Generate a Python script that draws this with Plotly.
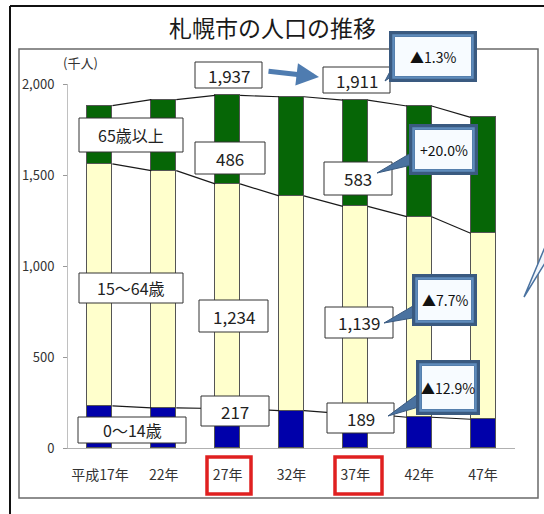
import plotly.graph_objects as go

# Sapporo population by age group (thousands)
years = ["平成17年", "22年", "27年", "32年", "37年", "42年", "47年"]
age_0_14 = [231, 221, 217, 205, 189, 169, 158]
age_15_64 = [1330, 1303, 1234, 1180, 1139, 1102, 1022]
age_65_over = [320, 390, 486, 545, 583, 608, 637]
y_ticks = [0, 500, 1000, 1500, 2000]

W, H = 544, 514
FONT = "Noto Sans CJK JP"
BAR_W = 0.39


def px(x):
    return x / W


def py(y):
    return 1 - y / H


totals = [a + b + c for a, b, c in zip(age_0_14, age_15_64, age_65_over)]
cum1 = age_0_14
cum2 = [a + b for a, b in zip(age_0_14, age_15_64)]
xs = list(range(len(years)))

fig = go.Figure()
for vals, name, color in [
    (age_0_14, "0～14歳", "#0000aa"),
    (age_15_64, "15～64歳", "#ffffcc"),
    (age_65_over, "65歳以上", "#066606"),
]:
    fig.add_trace(go.Bar(
        x=xs, y=vals, name=name, width=BAR_W,
        marker=dict(color=color, line=dict(color="#555555", width=1)),
        showlegend=False, hoverinfo="skip",
    ))

# series lines joining segment tops between neighbouring bars
for level in (cum1, cum2, totals):
    lx, ly = [], []
    for i in range(len(xs) - 1):
        lx += [xs[i] + BAR_W / 2, xs[i + 1] - BAR_W / 2, None]
        ly += [level[i], level[i + 1], None]
    fig.add_trace(go.Scatter(x=lx, y=ly, mode="lines",
                             line=dict(color="#1a1a1a", width=1.2),
                             showlegend=False, hoverinfo="skip"))

shapes = []
annotations = []

# outer frame and inner chart frame
shapes.append(dict(type="line", xref="paper", yref="paper",
                   x0=px(10), x1=px(544), y0=py(6), y1=py(6),
                   line=dict(color="#111111", width=2)))
shapes.append(dict(type="line", xref="paper", yref="paper",
                   x0=px(10), x1=px(10), y0=py(6), y1=py(514),
                   line=dict(color="#111111", width=2)))
shapes.append(dict(type="rect", xref="paper", yref="paper",
                   x0=px(19), x1=px(538), y0=py(49), y1=py(498),
                   line=dict(color="#6a6a6a", width=1.5), layer="below"))


def text_box(x0, y0, x1, y1, text, size=16):
    shapes.append(dict(type="rect", xref="paper", yref="paper",
                       x0=px(x0), x1=px(x1), y0=py(y0), y1=py(y1),
                       line=dict(color="#333333", width=1),
                       fillcolor="white", layer="above"))
    annotations.append(dict(xref="paper", yref="paper",
                            x=px((x0 + x1) / 2), y=py((y0 + y1) / 2),
                            text=text, showarrow=False,
                            font=dict(family=FONT, size=size, color="#222222"),
                            xanchor="center", yanchor="middle"))


def callout(x0, y0, x1, y1, text, wedge):
    (bx1, by1), (bx2, by2), (tx, ty) = wedge
    path = (f"M {px(bx1)},{py(by1)} L {px(tx)},{py(ty)} "
            f"L {px(bx2)},{py(by2)} Z")
    shapes.append(dict(type="path", xref="paper", yref="paper", path=path,
                       fillcolor="#4a72a0", line=dict(color="#3a5a80", width=1),
                       layer="above"))
    shapes.append(dict(type="rect", xref="paper", yref="paper",
                       x0=px(x0), x1=px(x1), y0=py(y0), y1=py(y1),
                       line=dict(color="#3a5a80", width=6),
                       fillcolor="#f7fbff", layer="above"))
    shapes.append(dict(type="rect", xref="paper", yref="paper",
                       x0=px(x0 + 1.5), x1=px(x1 - 1.5),
                       y0=py(y0 + 1.5), y1=py(y1 - 1.5),
                       line=dict(color="#5f8cbc", width=2.5),
                       layer="above"))
    annotations.append(dict(xref="paper", yref="paper",
                            x=px((x0 + x1) / 2), y=py((y0 + y1) / 2),
                            text=text, showarrow=False,
                            font=dict(family=FONT, size=14, color="#111111"),
                            xanchor="center", yanchor="middle"))


def pct(new, old):
    r = (new / old - 1) * 100
    return f"▲{abs(r):.1f}%" if r < 0 else f"+{r:.1f}%"


# series name labels
text_box(79, 118, 183, 152, "65歳以上")
text_box(79, 273, 183, 303, "15～64歳")
text_box(78, 417, 186, 443, "0～14歳")

# values for 27年 and 37年
i27, i37 = 2, 4
text_box(195, 62, 262, 88, f"{totals[i27]:,}", 17)
text_box(323, 67, 390, 93, f"{totals[i37]:,}", 17)
text_box(195, 142, 265, 174, f"{age_65_over[i27]:,}", 17)
text_box(324, 162, 392, 195, f"{age_65_over[i37]:,}", 17)
text_box(199, 300, 268, 332, f"{age_15_64[i27]:,}", 17)
text_box(325, 307, 393, 338, f"{age_15_64[i37]:,}", 17)
text_box(201, 396, 269, 426, f"{age_0_14[i27]:,}", 17)
text_box(327, 403, 394, 433, f"{age_0_14[i37]:,}", 17)

# change rate callouts
callout(392, 34, 474, 79, pct(totals[i37], totals[i27]),
        ((396, 60), (398, 72), (385, 81)))
callout(412, 127, 475, 172, pct(age_65_over[i37], age_65_over[i27]),
        ((416, 150), (416, 164), (377, 173)))
callout(415, 277, 474, 323, pct(age_15_64[i37], age_15_64[i27]),
        ((418, 303), (418, 317), (384, 323)))
callout(419, 363, 477, 412, pct(age_0_14[i37], age_0_14[i27]),
        ((422, 391), (422, 406), (388, 416)))

# pointer of a callout reaching in from the right edge
shapes.append(dict(type="path", xref="paper", yref="paper",
                   path=f"M {px(545)},{py(247)} L {px(524)},{py(297)} "
                        f"L {px(545)},{py(263)} Z",
                   fillcolor="#f2f6fb", line=dict(color="#4a72a0", width=1.5),
                   layer="above"))

# highlight frames around the 27年 and 37年 labels
for x0, x1 in [(207, 251), (335, 382)]:
    shapes.append(dict(type="rect", xref="paper", yref="paper",
                       x0=px(x0), x1=px(x1), y0=py(457), y1=py(494),
                       line=dict(color="#e02020", width=3.5), layer="above"))

# arrow from total 27年 to total 37年
annotations.append(dict(xref="paper", yref="paper",
                        x=px(319), y=py(77), ax=-52, ay=-6,
                        showarrow=True, arrowhead=2, arrowsize=0.9,
                        arrowwidth=5, arrowcolor="#4f7cb0", text=""))

# title and unit
annotations.append(dict(xref="paper", yref="paper", x=px(272), y=py(27),
                        text="札幌市の人口の推移", showarrow=False,
                        font=dict(family=FONT, size=23, color="#1a1a1a"),
                        xanchor="center", yanchor="middle"))
annotations.append(dict(xref="paper", yref="paper", x=px(80), y=py(62),
                        text="(千人)", showarrow=False,
                        font=dict(family=FONT, size=13, color="#333333"),
                        xanchor="center", yanchor="middle"))

fig.update_layout(
    width=W, height=H,
    margin=dict(l=0, r=0, t=0, b=0, pad=0),
    paper_bgcolor="white", plot_bgcolor="white",
    barmode="stack", bargap=0,
    shapes=shapes, annotations=annotations,
    xaxis=dict(
        domain=[68 / W, 515 / W], range=[-0.5, len(years) - 0.5],
        tickmode="array", tickvals=xs, ticktext=years,
        showline=True, linecolor="#b0b0b0", linewidth=1,
        showgrid=False, zeroline=False, ticks="",
        ticklabelstandoff=14, automargin=False,
        tickfont=dict(family=FONT, size=14, color="#333333"),
        fixedrange=True,
    ),
    yaxis=dict(
        domain=[1 - 448 / H, 1 - 84 / H], range=[0, 2000],
        tickmode="array", tickvals=y_ticks,
        ticktext=[f"{v:,}" for v in y_ticks],
        showline=True, linecolor="#c0c0c0", linewidth=1,
        showgrid=False, zeroline=False,
        ticks="outside", ticklen=4, tickcolor="#999999",
        ticklabelstandoff=6, automargin=False,
        tickfont=dict(family=FONT, size=13, color="#333333"),
        fixedrange=True,
    ),
)

fig.write_html("out.html")
